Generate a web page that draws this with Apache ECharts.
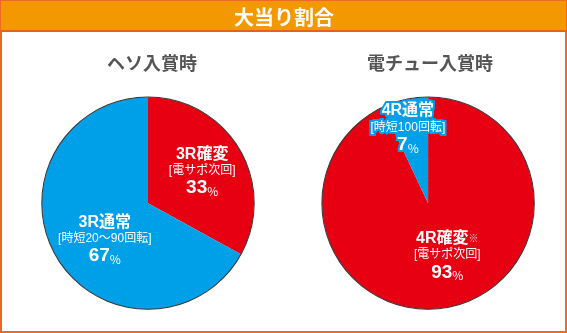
<!DOCTYPE html>
<html><head><meta charset="utf-8">
<script src="https://cdn.jsdelivr.net/npm/echarts@6/dist/echarts.min.js"></script>
<style>html,body{margin:0;padding:0;background:#fff}#c{width:567px;height:333px}</style>
</head><body><div id="c"></div>
<script>
const chartTitle = '大当り割合';
const pieTitles = ['ヘソ入賞時', '電チュー入賞時'];
const hesoNames = ['3R確変', '3R通常'];
const hesoSubs = ['[電サポ次回]', '[時短20〜90回転]'];
const hesoNotes = ['', ''];
const hesoValues = [33, 67];
const denNames = ['4R確変', '4R通常'];
const denSubs = ['[電サポ次回]', '[時短100回転]'];
const denNotes = ['※', ''];
const denValues = [93, 7];

const RED = '#e60012', BLUE = '#00a0e9';
const FONT = '"Noto Sans CJK JP", "Noto Sans", sans-serif';
const LFONT = '"Liberation Sans", "Noto Sans CJK JP", sans-serif';
const centers = [['26.1%', '61%'], ['75.5%', '61%']];
const R = 106;

const rich = {
  a: {fontSize: 16, fontWeight: 'bold', color: '#fff', lineHeight: 17, fontFamily: LFONT},
  n: {fontSize: 10, color: '#f7c6cc', lineHeight: 17, fontFamily: FONT},
  b: {fontSize: 12, color: '#fff', lineHeight: 16, fontFamily: LFONT},
  c: {fontSize: 19, fontWeight: 'bold', color: '#fff', lineHeight: 19, fontFamily: LFONT},
  d: {fontSize: 12, color: '#fff', lineHeight: 19, verticalAlign: 'bottom', fontFamily: FONT}
};

function makeData(names, subs, notes, values, colors, borders) {
  return values.map((v, i) => {
    const item = {
      value: v, name: names[i], sub: subs[i], note: notes[i],
      itemStyle: {color: colors[i]}
    };
    if (borders[i]) {
      item.label = {textBorderColor: BLUE, textBorderWidth: 4};
    }
    return item;
  });
}

function pieSeries(idx, data, offsets) {
  return {
    type: 'pie', center: centers[idx], radius: [0, R], startAngle: 90, clockwise: true,
    silent: true, animation: false,
    itemStyle: {borderWidth: 0},
    label: {
      show: true, position: 'inside', align: 'center', fontFamily: FONT,
      formatter: p => `{a|${p.name}}{n|${p.data.note}}\n{b|${p.data.sub}}\n{c|${p.value}}{d|%}`,
      rich: rich
    },
    labelLine: {show: false},
    labelLayout: p => ({dx: offsets[p.dataIndex][0], dy: offsets[p.dataIndex][1]}),
    data: data
  };
}

function outline(idx) {
  return {
    type: 'pie', center: centers[idx], radius: [R - 0.3, R + 0.7], silent: true, animation: false,
    label: {show: false}, labelLine: {show: false},
    itemStyle: {color: '#333'}, data: [{value: 1}]
  };
}

const chart = echarts.init(document.getElementById('c'), null, {renderer: 'canvas'});
chart.setOption({
  backgroundColor: '#fff',
  animation: false,
  graphic: [
    {type: 'rect', shape: {x: 1, y: 1, width: 565, height: 331}, style: {fill: '#fff', stroke: '#ec6a24', lineWidth: 2}, z: -10},
    {type: 'rect', shape: {x: 1, y: 1, width: 565, height: 30}, style: {fill: '#f39800'}, z: -9},
    {type: 'rect', shape: {x: 1, y: 30, width: 565, height: 2}, style: {fill: '#e8601c'}, z: -9}
  ],
  title: [
    {text: chartTitle, left: 284, top: 6, padding: 0, textAlign: 'center',
     textStyle: {color: '#fff', fontSize: 20, fontWeight: 'bold', fontFamily: FONT, lineHeight: 22}},
    {text: pieTitles[0], left: 152, top: 53, padding: 0, textAlign: 'center',
     textStyle: {color: '#555', fontSize: 18, fontWeight: 'bold', fontFamily: FONT, lineHeight: 20}},
    {text: pieTitles[1], left: 430, top: 53, padding: 0, textAlign: 'center',
     textStyle: {color: '#555', fontSize: 18, fontWeight: 'bold', fontFamily: FONT, lineHeight: 20}}
  ],
  series: [
    pieSeries(0, makeData(hesoNames, hesoSubs, hesoNotes, hesoValues, [RED, BLUE], [false, false]), [[6, -3], [5, 8]]),
    pieSeries(1, makeData(denNames, denSubs, denNotes, denValues, [RED, BLUE], [false, true]), [[7, -2], [-8, -20]]),
    outline(0), outline(1)
  ]
});
</script></body></html>
